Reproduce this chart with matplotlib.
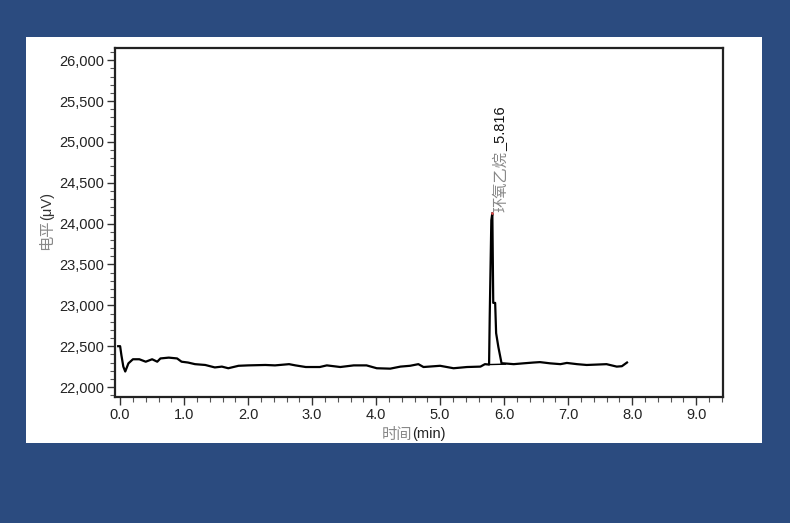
import matplotlib
matplotlib.use('Agg')
import matplotlib.pyplot as plt
from matplotlib.patches import Rectangle
from matplotlib.ticker import MultipleLocator, StrMethodFormatter

plt.rcParams['font.family'] = ['Liberation Sans', 'Noto Sans CJK SC', 'DejaVu Sans']

# chromatogram trace (time in min, signal in µV)
time_min = [-0.03, 0.0, 0.02, 0.05, 0.08, 0.13, 0.2, 0.3, 0.4, 0.5, 0.58, 0.63,
            0.76, 0.89, 0.96, 1.06, 1.17, 1.33, 1.48, 1.59, 1.69, 1.85, 2.0,
            2.27, 2.42, 2.64, 2.74, 2.9, 3.12, 3.23, 3.44, 3.65, 3.85, 4.01,
            4.22, 4.38, 4.53, 4.66, 4.74, 5.0, 5.21, 5.42, 5.63, 5.70, 5.765,
            5.775, 5.80, 5.816, 5.83, 5.86, 5.875, 5.91, 5.94, 5.96, 5.99,
            6.15, 6.3, 6.46, 6.56, 6.72, 6.88, 6.98, 7.14, 7.29, 7.45, 7.6,
            7.76, 7.84, 7.92]
signal_uv = [22500, 22500, 22390, 22250, 22190, 22290, 22340, 22340, 22310,
             22340, 22310, 22350, 22360, 22350, 22310, 22300, 22280, 22270,
             22240, 22250, 22230, 22260, 22265, 22270, 22265, 22280, 22265,
             22245, 22245, 22265, 22245, 22265, 22265, 22230, 22225, 22250,
             22260, 22280, 22245, 22260, 22230, 22245, 22250, 22280, 22275,
             22860, 24040, 24130, 23030, 23030, 22660, 22490, 22370, 22290,
             22290, 22280, 22290, 22300, 22305, 22290, 22280, 22295, 22280,
             22270, 22275, 22280, 22250, 22255, 22300]

# integration baseline under the peak
base_t = [5.765, 6.02]
base_v = [22275, 22280]

peak_name = '环氧乙烷'
peak_rt = 5.816
peak_top = 24130

x_ticks = [0, 1, 2, 3, 4, 5, 6, 7, 8, 9]
y_ticks = [22000, 22500, 23000, 23500, 24000, 24500, 25000, 25500, 26000]

W, H = 790, 523
fig = plt.figure(figsize=(W / 100, H / 100), dpi=100, facecolor='#2b4b7f')
fig.patches.append(Rectangle((26 / W, 1 - 443 / H), 736 / W, 406 / H,
                             transform=fig.transFigure, facecolor='white',
                             edgecolor='none', zorder=-5))

ax = fig.add_axes([115 / W, 1 - 397 / H, 608 / W, 349 / H])
ax.set_facecolor('white')
ax.plot(time_min, signal_uv, color='black', lw=1.6)
ax.plot(base_t, base_v, color='black', lw=1.0)
ax.plot([peak_rt], [peak_top], marker='o', ms=2, color='#e05050', mec='none')

ax.set_xlim(-0.08, 9.42)
ax.set_ylim(21878, 26150)
ax.set_xticks(x_ticks)
ax.set_yticks(y_ticks)
ax.xaxis.set_major_formatter(StrMethodFormatter('{x:.1f}'))
ax.yaxis.set_major_formatter(StrMethodFormatter('{x:,.0f}'))
ax.xaxis.set_minor_locator(MultipleLocator(0.2))
ax.yaxis.set_minor_locator(MultipleLocator(100))
ax.tick_params(which='major', length=6, width=1, labelsize=10.5,
               labelcolor='#222222', color='#333333', pad=2)
ax.tick_params(which='minor', length=3.5, width=0.8, color='#555555')
for s in ax.spines.values():
    s.set_linewidth(1.6)
    s.set_color('#222222')

# peak label: grey name, black retention time
t1 = ax.annotate(peak_name, xy=(peak_rt, peak_top), xytext=(6, 1),
                 textcoords='offset points', rotation=90, ha='center',
                 va='bottom', fontsize=11, color='#888888',
                 family=['Noto Sans CJK SC'])
ax.annotate(f'_{peak_rt:.3f}', xy=(0.5, 1), xycoords=t1, xytext=(0, 0),
            textcoords='offset points', rotation=90, ha='center', va='bottom',
            fontsize=10.5, color='#111111')

# axis titles
yl = fig.text(47 / W, 1 - 250 / H, '电平', rotation=90, ha='center', va='bottom',
              fontsize=11, color='#888888', family=['Noto Sans CJK SC'])
fig.add_artist(plt.Annotation('(μV)', xy=(0.5, 1), xycoords=yl, rotation=90,
                              ha='center', va='bottom', fontsize=10.5,
                              color='#333333'))
xl = fig.text(412 / W, 1 - 434 / H, '时间', ha='right', va='center',
              fontsize=11, color='#888888', family=['Noto Sans CJK SC'])
fig.add_artist(plt.Annotation('(min)', xy=(1, 0.5), xycoords=xl, ha='left',
                              va='center', fontsize=10.5, color='#222222'))

fig.savefig('out.png', dpi=100, facecolor=fig.get_facecolor())
